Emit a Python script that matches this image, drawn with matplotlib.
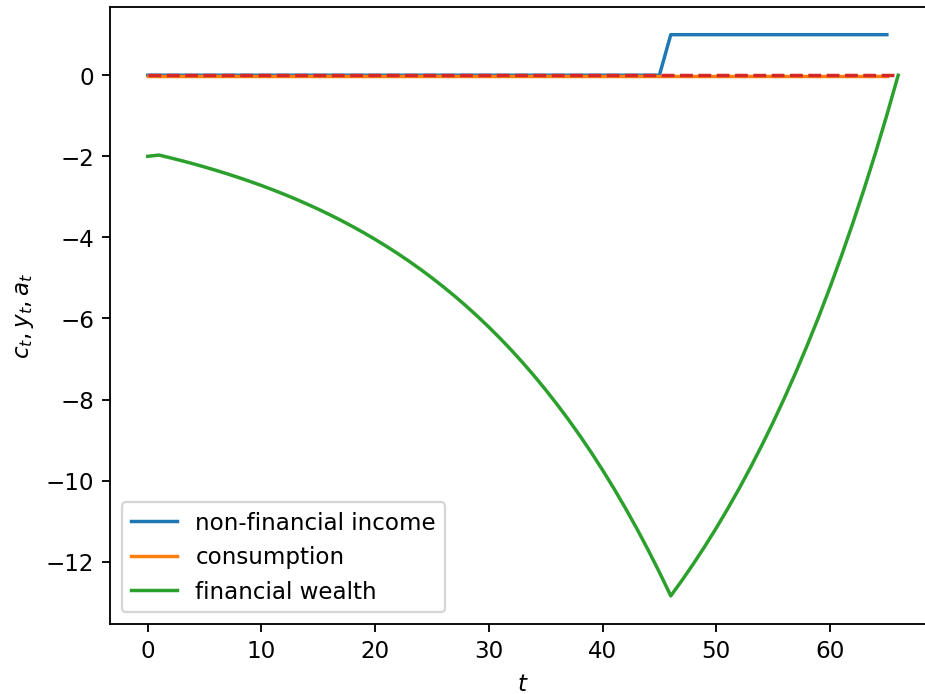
import matplotlib
matplotlib.use("Agg")
import matplotlib.pyplot as plt

# periods
t_income = list(range(66))
t_wealth = list(range(67))

# non-financial income: zero until t=45, then 1
income = [0.0] * 46 + [1.0] * 20

# consumption (flat, slightly below zero)
consumption = [-0.030] * 66

# financial wealth
wealth = [
    -2.000, -1.970, -2.038, -2.109, -2.184, -2.263, -2.346, -2.433, -2.524, -2.620,
    -2.720, -2.826, -2.937, -3.053, -3.176, -3.304, -3.439, -3.580, -3.729, -3.885,
    -4.049, -4.221, -4.401, -4.591, -4.790, -4.999, -5.219, -5.449, -5.691, -5.946,
    -6.213, -6.493, -6.787, -7.096, -7.420, -7.761, -8.119, -8.494, -8.888, -9.302,
    -9.737, -10.194, -10.673, -11.176, -11.705, -12.259, -12.842, -12.454, -12.046, -11.618,
    -11.168, -10.696, -10.201, -9.680, -9.134, -8.560, -7.958, -7.325, -6.661, -5.964,
    -5.232, -4.463, -3.656, -2.808, -1.918, -0.984, 0.0,
]

zero_line = [0.0] * 67

DPI = 166
fig = plt.figure(figsize=(925 / DPI, 694.4 / DPI), dpi=DPI)
# right spine sits just past the image edge, as in the cropped original
ax = fig.add_axes([0.1191, 0.1009, 0.8925, 0.889])

ax.plot(t_income, income, label="non-financial income")
ax.plot(t_income, consumption, label="consumption")
ax.plot(t_wealth, wealth, label="financial wealth")
ax.plot(t_wealth, zero_line, "--")

ax.set_xlabel(r"$t$")
ax.set_ylabel(r"$c_t, y_t, a_t$")
ax.legend(loc="lower left")

fig.savefig("out.png", dpi=DPI)
plt.close(fig)
